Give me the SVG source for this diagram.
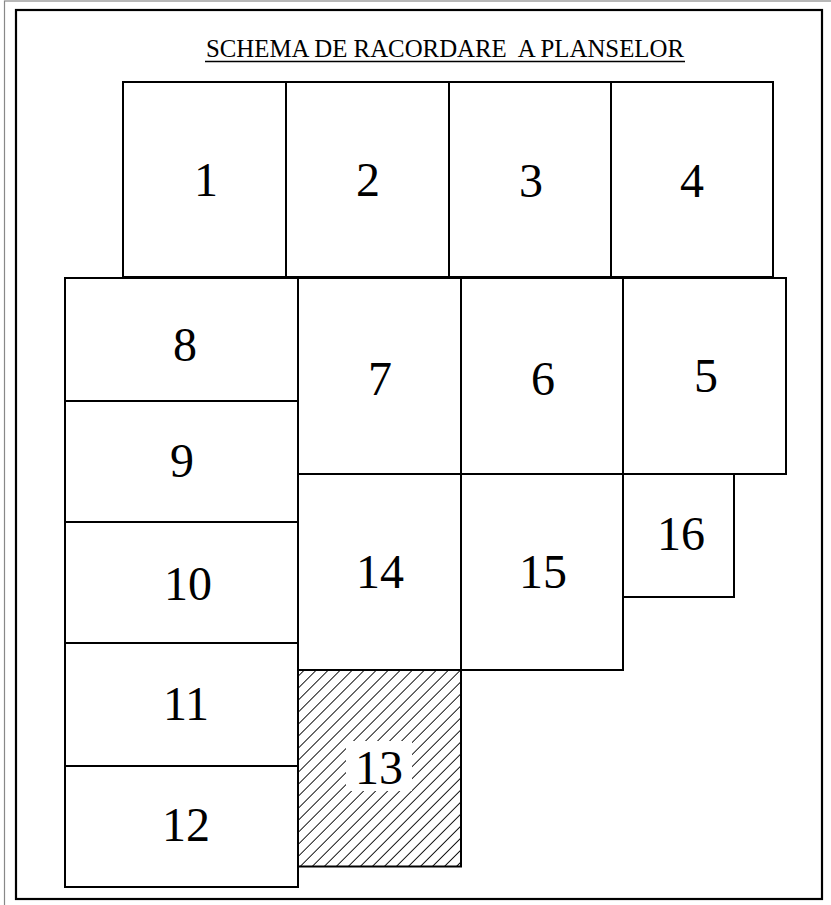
<svg xmlns="http://www.w3.org/2000/svg" width="831" height="905" viewBox="0 0 831 905">
<defs>
<pattern id="hatch" patternUnits="userSpaceOnUse" width="8.5" height="8.5" patternTransform="rotate(45)">
<line x1="0" y1="-1" x2="0" y2="10" stroke="#000" stroke-width="1.8"/>
</pattern>
</defs>
<style>
.box{fill:#fff;stroke:#000;stroke-width:2}
.num{font-family:"Liberation Serif","Times New Roman",serif;font-size:48px;fill:#000;text-anchor:middle}
.title{font-family:"Liberation Serif","Times New Roman",serif;font-size:24.5px;fill:#000;text-anchor:middle;white-space:pre}
</style>
<rect x="0" y="0" width="831" height="905" fill="#fff"/>
<g id="frame">
<rect x="4.5" y="1" width="840" height="920" fill="none" stroke="#888" stroke-width="1.2"/>
<rect x="16" y="10" width="806" height="889" fill="none" stroke="#000" stroke-width="2.2"/>
</g>
<g id="title">
<text class="title" x="445" y="57" xml:space="preserve" textLength="478" lengthAdjust="spacingAndGlyphs">SCHEMA DE RACORDARE  A PLANSELOR</text>
<line x1="205" y1="61.5" x2="685" y2="61.5" stroke="#000" stroke-width="1.5"/>
</g>
<g id="n1"><rect class="box" x="123" y="82" width="163" height="195"/><text class="num" x="206" y="196">1</text></g>
<g id="n2"><rect class="box" x="286" y="82" width="163" height="195"/><text class="num" x="368" y="196">2</text></g>
<g id="n3"><rect class="box" x="449" y="82" width="162" height="195"/><text class="num" x="531" y="197">3</text></g>
<g id="n4"><rect class="box" x="611" y="82" width="162" height="195"/><text class="num" x="692" y="197">4</text></g>
<g id="n8"><rect class="box" x="65" y="278" width="233" height="123"/><text class="num" x="185" y="361">8</text></g>
<g id="n9"><rect class="box" x="65" y="401" width="233" height="121"/><text class="num" x="182" y="477">9</text></g>
<g id="n10"><rect class="box" x="65" y="522" width="233" height="121"/><text class="num" x="188" y="600">10</text></g>
<g id="n11"><rect class="box" x="65" y="643" width="233" height="123"/><text class="num" x="186" y="720">11</text></g>
<g id="n12"><rect class="box" x="65" y="766" width="233" height="121"/><text class="num" x="186" y="841">12</text></g>
<g id="n7"><rect class="box" x="298" y="278" width="163" height="196"/><text class="num" x="380" y="395">7</text></g>
<g id="n6"><rect class="box" x="461" y="278" width="162" height="196"/><text class="num" x="543" y="395">6</text></g>
<g id="n5"><rect class="box" x="623" y="278" width="163" height="196"/><text class="num" x="706" y="392">5</text></g>
<g id="n14"><rect class="box" x="298" y="474" width="163" height="196"/><text class="num" x="380" y="588">14</text></g>
<g id="n15"><rect class="box" x="461" y="474" width="162" height="196"/><text class="num" x="543" y="588">15</text></g>
<g id="n16"><rect class="box" x="623" y="474" width="111" height="123"/><text class="num" x="681" y="550">16</text></g>
<g id="n13">
<rect x="298" y="670" width="163" height="196.5" fill="url(#hatch)" stroke="none"/>
<rect x="346" y="741" width="66" height="50" fill="#fff"/>
<rect x="298" y="670" width="163" height="196.5" fill="none" stroke="#000" stroke-width="2"/>
<text class="num" x="379" y="784">13</text>
</g>
</svg>
